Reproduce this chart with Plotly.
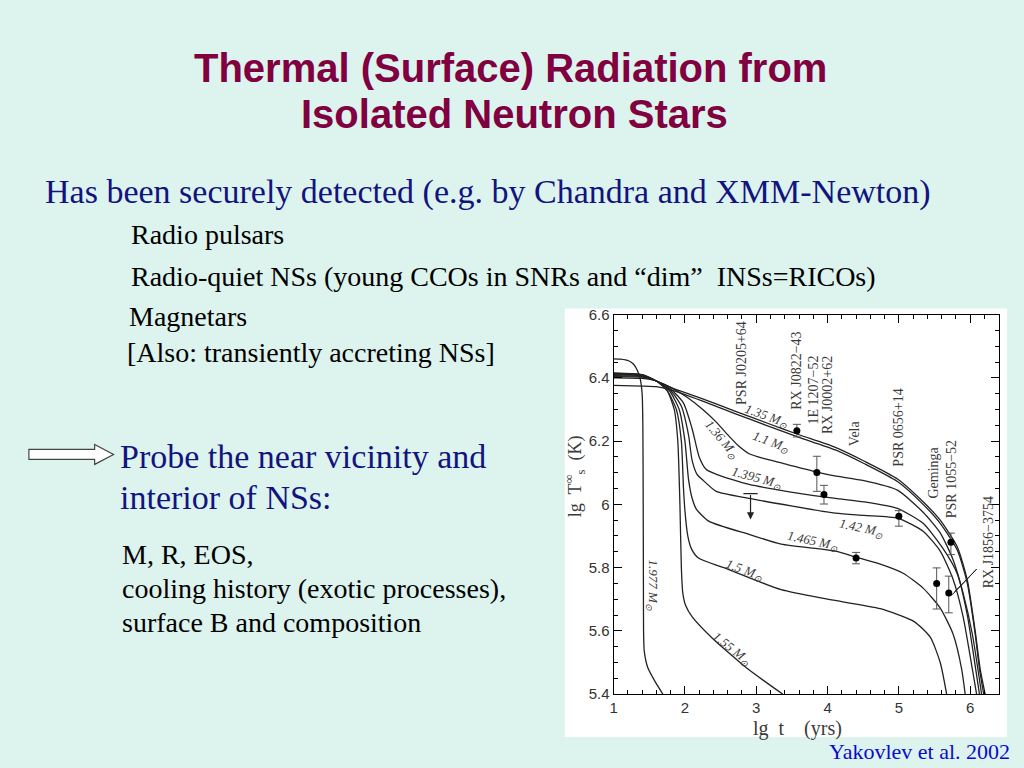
import plotly.graph_objects as go

W, H = 1024, 768

# ---------------- data (lg t [yr], lg Ts [K]) ----------------
M_LABELS = ["1.35", "1.1", "1.36", "1.395", "1.42", "1.465", "1.5", "1.55", "1.977"]

LGT_135 = [1.0, 1.4, 1.6, 1.8, 2.23, 2.7, 3.14, 3.6, 4.11, 4.51, 4.98, 5.34, 5.58, 5.82, 5.96, 6.07, 6.14, 6.21]
LTS_135 = [6.400, 6.398, 6.39, 6.37, 6.335, 6.295, 6.258, 6.22, 6.18, 6.137, 6.08, 6.008, 5.95, 5.865, 5.76, 5.60, 5.48, 5.40]

LGT_11 = [1.0, 1.4, 1.6, 1.8, 2.23, 2.7, 3.14, 3.6, 4.11, 4.51, 4.98, 5.34, 5.58, 5.82, 5.96, 6.07, 6.13, 6.19]
LTS_11 = [6.376, 6.374, 6.372, 6.362, 6.328, 6.287, 6.25, 6.212, 6.172, 6.129, 6.072, 6.0, 5.94, 5.855, 5.75, 5.59, 5.48, 5.40]

LGT_136 = [1.0, 1.4, 1.6, 1.8, 2.02, 2.25, 2.44, 2.6, 2.75, 2.9, 3.1, 3.4, 3.85, 4.1, 4.51, 4.98, 5.34, 5.58, 5.76, 5.9, 6.03, 6.16]
LTS_136 = [6.404, 6.402, 6.39, 6.37, 6.34, 6.30, 6.26, 6.22, 6.185, 6.16, 6.145, 6.128, 6.102, 6.09, 6.075, 6.045, 5.975, 5.91, 5.825, 5.72, 5.59, 5.40]

LGT_1395 = [1.0, 1.4, 1.6, 1.8, 1.98, 2.1, 2.2, 2.3, 2.44, 2.9, 3.6, 4.11, 4.51, 4.98, 5.34, 5.62, 5.82, 5.96, 6.05, 6.13]
LTS_1395 = [6.407, 6.404, 6.39, 6.365, 6.32, 6.24, 6.15, 6.11, 6.095, 6.063, 6.035, 6.019, 6.008, 5.987, 5.94, 5.86, 5.78, 5.65, 5.52, 5.40]

LGT_142 = [1.0, 1.4, 1.6, 1.8, 1.95, 2.05, 2.1, 2.17, 2.26, 2.44, 2.9, 4.11, 4.51, 4.99, 5.34, 5.58, 5.76, 5.9, 6.0, 6.09]
LTS_142 = [6.41, 6.406, 6.39, 6.36, 6.31, 6.22, 6.14, 6.095, 6.075, 6.041, 6.019, 5.972, 5.965, 5.956, 5.915, 5.852, 5.763, 5.646, 5.52, 5.40]

LGT_1465 = [1.0, 1.4, 1.6, 1.78, 1.92, 2.0, 2.05, 2.1, 2.16, 2.34, 2.9, 3.35, 4.11, 4.41, 4.74, 5.06, 5.34, 5.58, 5.76, 5.88, 5.93]
LTS_1465 = [6.412, 6.408, 6.39, 6.36, 6.30, 6.2, 6.08, 6.02, 5.985, 5.946, 5.905, 5.874, 5.852, 5.832, 5.811, 5.782, 5.735, 5.672, 5.59, 5.48, 5.40]

LGT_15 = [1.0, 1.4, 1.6, 1.75, 1.88, 1.95, 1.98, 2.0, 2.04, 2.09, 2.19, 2.6, 3.35, 4.0, 4.74, 5.21, 5.44, 5.58, 5.67]
LTS_15 = [6.414, 6.41, 6.39, 6.36, 6.30, 6.2, 6.05, 5.98, 5.9, 5.86, 5.83, 5.795, 5.73, 5.70, 5.67, 5.63, 5.58, 5.50, 5.40]

LGT_155 = [1.0, 1.4, 1.6, 1.75, 1.85, 1.9, 1.93, 1.95, 1.97, 2.01, 2.1, 2.37, 2.88, 3.37]
LTS_155 = [6.416, 6.41, 6.39, 6.36, 6.30, 6.2, 6.0, 5.8, 5.72, 5.68, 5.645, 5.58, 5.48, 5.40]

LGT_1977 = [1.0, 1.1, 1.21, 1.28, 1.33, 1.37, 1.40, 1.41, 1.415, 1.418, 1.42, 1.43, 1.48, 1.58, 1.69]
LTS_1977 = [6.46, 6.459, 6.454, 6.443, 6.425, 6.40, 6.35, 6.25, 6.0, 5.75, 5.6, 5.535, 5.483, 5.44, 5.40]

CURVE_X = [LGT_135, LGT_11, LGT_136, LGT_1395, LGT_142, LGT_1465, LGT_15, LGT_155, LGT_1977]
CURVE_Y = [LTS_135, LTS_11, LTS_136, LTS_1395, LTS_142, LTS_1465, LTS_15, LTS_155, LTS_1977]

# observed sources
OBS_NAMES = ["RX J0822\u221243", "1E 1207\u221252", "RX J0002+62", "Vela", "PSR 0656+14",
             "Geminga", "PSR 1055\u221252", "RX J1856\u22123754"]
OBS_LGT = [3.57, 3.85, 3.95, 4.40, 5.00, 5.53, 5.73, 5.70]
OBS_LTS = [6.233, 6.101, 6.031, 5.830, 5.962, 5.750, 5.880, 5.720]
OBS_ERR_UP = [0.020, 0.051, 0.029, 0.018, 0.018, 0.049, 0.029, 0.053]
OBS_ERR_DN = [0.020, 0.060, 0.030, 0.018, 0.031, 0.081, 0.039, 0.063]

# upper limit (PSR J0205+64)
UL_NAME = "PSR J0205+64"
UL_LGT = 2.92
UL_LTS = 6.034
UL_TIP = 5.952

X_TICKS = [1, 2, 3, 4, 5, 6]
Y_TICKS = [5.4, 5.6, 5.8, 6.0, 6.2, 6.4, 6.6]
Y_TICKTEXT = ["5.4", "5.6", "5.8", "6", "6.2", "6.4", "6.6"]

# ---------------- helpers (slide pixel -> paper) ----------------
# the page is rendered with a small vertical offset/scale; compensate for it
V_OFF, V_SCALE = 7.0, 752.0 / 768.0

def px(x):
    return x / W

def py(y):
    return 1 - ((y - V_OFF) / V_SCALE) / H

BG = "#dcf3ee"
INK = "#222222"
GRAY = "#3a3a3a"

fig = go.Figure()

for xs, ys in zip(CURVE_X, CURVE_Y):
    fig.add_trace(go.Scatter(x=xs, y=ys, mode="lines", line=dict(color=INK, width=1.3, shape="spline", smoothing=0.6),
                             hoverinfo="skip", showlegend=False))

fig.add_trace(go.Scatter(
    x=OBS_LGT, y=OBS_LTS, mode="markers",
    marker=dict(color="black", size=7),
    error_y=dict(type="data", symmetric=False, array=OBS_ERR_UP, arrayminus=OBS_ERR_DN,
                 color="#555555", thickness=1, width=4),
    showlegend=False, hoverinfo="skip"))

# upper limit bar
fig.add_trace(go.Scatter(x=[UL_LGT - 0.1, UL_LGT + 0.1], y=[UL_LTS, UL_LTS], mode="lines",
                         line=dict(color=INK, width=1.2), showlegend=False, hoverinfo="skip"))
fig.add_annotation(x=UL_LGT, y=UL_TIP, ax=UL_LGT, ay=UL_LTS, xref="x", yref="y", axref="x", ayref="y",
                   showarrow=True, arrowhead=2, arrowsize=1.2, arrowwidth=1.2, arrowcolor=INK, text="")

# leader lines for RX J1856-3754
LEADER_FROM = (6.09, 5.795)
LEADER_TO_X = [5.74, 5.76, 5.78]
LEADER_TO_Y = [5.712, 5.717, 5.724]
for lx, ly in zip(LEADER_TO_X, LEADER_TO_Y):
    fig.add_trace(go.Scatter(x=[LEADER_FROM[0], lx], y=[LEADER_FROM[1], ly], mode="lines",
                             line=dict(color=INK, width=0.8), showlegend=False, hoverinfo="skip"))

# curve labels
CL_POS = [(3.14, 6.278, 20), (3.21, 6.196, 20), (2.51, 6.205, 50), (3.01, 6.082, 15),
          (4.47, 5.924, 12), (3.79, 5.883, 12), (2.83, 5.791, 20), (2.66, 5.541, 38), (1.54, 5.746, 90)]
for m, (x, y, a) in zip(M_LABELS, CL_POS):
    fig.add_annotation(x=x, y=y, xref="x", yref="y", text="<i>%s M<sub>\u2299</sub></i>" % m,
                       textangle=a, showarrow=False,
                       font=dict(family="Liberation Serif", size=13, color=GRAY))

# source labels
SRC_POS = [(3.56, 6.423), (3.81, 6.363), (4.00, 6.344), (4.38, 6.224), (4.99, 6.243),
           (5.48, 6.101), (5.73, 6.079), (6.25, 5.880)]
for name, (x, y) in zip(OBS_NAMES, SRC_POS):
    fig.add_annotation(x=x, y=y, xref="x", yref="y", text=name, textangle=-90, showarrow=False,
                       font=dict(family="Liberation Serif", size=14, color=GRAY))
fig.add_annotation(x=2.79, y=6.448, xref="x", yref="y", text=UL_NAME, textangle=-90, showarrow=False,
                   font=dict(family="Liberation Serif", size=14, color=GRAY))

# axis titles
fig.add_annotation(x=px(573), y=py(475), xref="paper", yref="paper", textangle=-90, showarrow=False,
                   xanchor="center", yanchor="middle",
                   text="lg  T<sup>\u221e</sup><sub>s</sub>  (K)",
                   font=dict(family="Liberation Serif", size=18, color=GRAY))
fig.add_annotation(x=px(797), y=py(727), xref="paper", yref="paper", showarrow=False,
                   xanchor="center", yanchor="middle",
                   text="lg  t    (yrs)", font=dict(family="Liberation Serif", size=20, color=GRAY))

# slide texts
NAVY = "#13137f"
def txt(x, y, s, size, color, family="Liberation Serif", anchor="left", bold=False):
    fig.add_annotation(x=px(x), y=py(y), xref="paper", yref="paper", text=("<b>%s</b>" % s) if bold else s,
                       showarrow=False, xanchor=anchor, yanchor="middle",
                       font=dict(family=family, size=size, color=color))

txt(508, 66, "Thermal (Surface) Radiation from", 40, "#800040", "Liberation Sans", "center", True)
txt(512, 112, "Isolated Neutron Stars", 40, "#800040", "Liberation Sans", "center", True)
txt(39, 190, "Has been securely detected (e.g. by Chandra and XMM-Newton)", 34, NAVY)
txt(125, 233, "Radio pulsars", 28, "black")
txt(125, 275, "Radio-quiet NSs (young CCOs in SNRs and \u201cdim\u201d  INSs=RICOs)", 28, "black")
txt(123, 315, "Magnetars", 28, "black")
txt(121, 351, "[Also: transiently accreting NSs]", 28, "black")
txt(114, 455, "Probe the near vicinity and", 34, NAVY)
txt(114, 496, "interior of NSs:", 34, NAVY)
txt(116, 553, "M, R, EOS,", 28, "black")
txt(116, 587, "cooling history (exotic processes),", 28, "black")
txt(116, 621, "surface B and composition", 28, "black")
txt(1012, 750, "Yakovlev et al. 2002", 22, "#0a0acc", anchor="right")

# shapes: white chart panel, arrow
shapes = [
    dict(type="rect", xref="paper", yref="paper", x0=px(563), x1=px(1007), y0=py(736), y1=py(307),
         fillcolor="white", line=dict(width=0), layer="below"),
]
arrow_pts = [(25, 448), (91, 448), (91, 443), (110, 453), (91, 463), (91, 458), (25, 458)]
path = "M " + " L ".join("%.5f,%.5f" % (px(a), py(b)) for a, b in arrow_pts) + " Z"
shapes.append(dict(type="path", xref="paper", yref="paper", path=path, fillcolor="white",
                   line=dict(color="#444444", width=1.2)))

axis_common = dict(showline=True, linecolor="black", linewidth=1, mirror="allticks", ticks="inside",
                   ticklen=8, tickcolor="black", showgrid=False, zeroline=False,
                   tickfont=dict(family="Liberation Sans", size=15, color="#333333"))

fig.update_layout(
    width=W, height=H, margin=dict(l=0, r=0, t=0, b=0),
    paper_bgcolor=BG, plot_bgcolor="white",
    shapes=shapes,
    xaxis=dict(domain=[px(612), px(998.6)], range=[1, 6.4], tickvals=X_TICKS,
               minor=dict(dtick=0.2, tick0=1, ticks="inside", ticklen=4, tickcolor="black", showgrid=False),
               **axis_common),
    yaxis=dict(domain=[py(693), py(313)], range=[5.4, 6.6], tickvals=Y_TICKS, ticktext=Y_TICKTEXT,
               minor=dict(dtick=0.05, tick0=5.4, ticks="inside", ticklen=4, tickcolor="black", showgrid=False),
               **axis_common),
)

RESET_JS = ("var s=document.createElement('style');"
            "s.textContent='html,body{margin:0;padding:0;overflow:hidden;width:1024px;height:768px;}';"
            "document.head.appendChild(s);window.scrollTo(0,0);")

fig.write_html("out.html", config={"displayModeBar": False, "staticPlot": True}, post_script=RESET_JS)
